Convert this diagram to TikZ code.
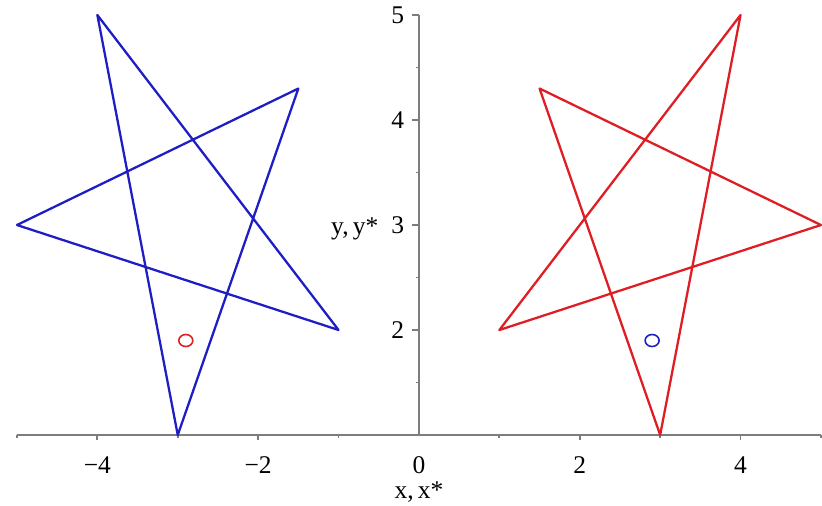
\documentclass[tikz,border=0pt]{standalone}
\usepackage{fontspec}
\setmainfont{Liberation Serif}
\usetikzlibrary{positioning}

\definecolor{plotblue}{RGB}{30,30,196}
\definecolor{plotred}{RGB}{222,30,36}
\definecolor{axisgray}{RGB}{125,125,125}

\begin{document}
\begin{tikzpicture}[
  x=1.608cm, y=2.1cm,
  axis/.style={draw=axisgray, line width=1.2pt},
  tick/.style={draw=axisgray, line width=1pt},
  star/.style={line width=1.3pt, line join=round},
  ptmark/.style={line width=0.9pt},
  lbl/.style={inner sep=0pt, font=\fontsize{14.5}{16}\selectfont}
]
\useasboundingbox (-5.211,0.333) rectangle (5.013,5.143);
% axes
\draw[axis] (-5,1) -- (5,1);
\draw[axis] (0,1) -- (0,5);
\foreach \x in {-4,-2,2,4} \draw[tick] (\x,1) -- ++(0,-0.05);
\foreach \x in {-5,-3,-1,1,3,5} \draw[tick] (\x,1) -- ++(0,-0.025);
\foreach \y in {2,3,4,5} \draw[tick] (0,\y) -- ++(-0.09,0);
\foreach \y in {1.5,2.5,3.5,4.5} \draw[tick] (0,\y) -- ++(-0.04,0);
% tick labels
\foreach \x/\t in {-4/−4,-2/−2,0/0,2/2,4/4}
  \node[lbl] (xlab\x) at (\x,0.714) {\t};
\foreach \y in {2,3,4,5}
  \node[lbl, anchor=east] (ylab\y) at (-0.18,\y) {\y};
\node[lbl, anchor=east] (ylabel) at (-0.5,2.96) {y,\,y*};
\node[lbl] (xlabel) at (0,0.457) {x,\,x*};
% stars
\draw[star, plotblue] (-4,5) -- (-3,1) -- (-1.5,4.3) -- (-5,3) -- (-1,2) -- cycle;
\draw[star, plotred] (4,5) -- (3,1) -- (1.5,4.3) -- (5,3) -- (1,2) -- cycle;
% points
\draw[ptmark, plotred] (-2.9,1.9) ellipse [x radius=0.14cm, y radius=0.12cm];
\draw[ptmark, plotblue] (2.9,1.9) ellipse [x radius=0.14cm, y radius=0.12cm];
\end{tikzpicture}
\end{document}
